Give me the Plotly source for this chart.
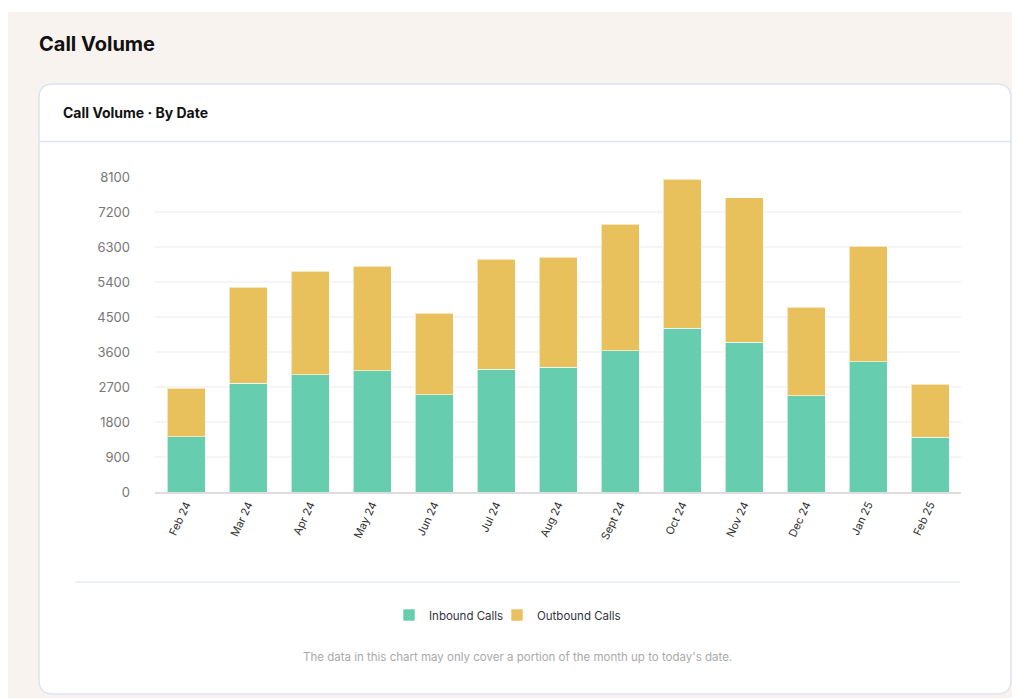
import plotly.graph_objects as go

months = ["Feb 24", "Mar 24", "Apr 24", "May 24", "Jun 24", "Jul 24", "Aug 24",
          "Sept 24", "Oct 24", "Nov 24", "Dec 24", "Jan 25", "Feb 25"]
inbound = [1416, 2798, 3012, 3115, 2497, 3158, 3210, 3629, 4206, 3853, 2481, 3346, 1408]
outbound = [1253, 2463, 2669, 2695, 2103, 2832, 2823, 3262, 3835, 3715, 2273, 2978, 1364]
y_ticks = [0, 900, 1800, 2700, 3600, 4500, 5400, 6300, 7200, 8100]

# page offset of the plotly div inside the browser body
OFF = 8
W, H = 1020 - OFF, 698 - OFF
PX0, PX1, PY0, PY1 = 155 - OFF, 961 - OFF, 492 - OFF, 177 - OFF


def fx(px):
    """screen pixel x -> paper fraction"""
    return (px - OFF - PX0) / (PX1 - PX0)


def fy(py):
    """screen pixel y -> paper fraction"""
    return (PY0 - (py - OFF)) / (PY0 - PY1)


FONT = "Inter, Roboto, sans-serif"
GREEN = "#66CDAE"
GOLD = "#E8C15C"

fig = go.Figure()
fig.add_trace(go.Bar(x=months, y=inbound, name="Inbound Calls", legend="legend",
                     marker=dict(color=GREEN, line=dict(color="rgba(255,255,255,0.6)", width=1))))
fig.add_trace(go.Bar(x=months, y=outbound, name="Outbound Calls", legend="legend2",
                     marker=dict(color=GOLD, line=dict(color="rgba(255,255,255,0.6)", width=1))))


def rounded_rect(x0, y0, x1, y1, r):
    pts = [
        f"M {fx(x0 + r)},{fy(y0)}",
        f"L {fx(x1 - r)},{fy(y0)}",
        f"Q {fx(x1)},{fy(y0)} {fx(x1)},{fy(y0 + r)}",
        f"L {fx(x1)},{fy(y1 - r)}",
        f"Q {fx(x1)},{fy(y1)} {fx(x1 - r)},{fy(y1)}",
        f"L {fx(x0 + r)},{fy(y1)}",
        f"Q {fx(x0)},{fy(y1)} {fx(x0)},{fy(y1 - r)}",
        f"L {fx(x0)},{fy(y0 + r)}",
        f"Q {fx(x0)},{fy(y0)} {fx(x0 + r)},{fy(y0)}",
        "Z",
    ]
    return " ".join(pts)


shapes = [
    dict(type="rect", xref="paper", yref="paper", x0=fx(8), x1=fx(1030), y0=fy(12), y1=fy(710),
         fillcolor="#F9F3F0", line=dict(width=0), layer="below"),
    dict(type="path", xref="paper", yref="paper", path=rounded_rect(39, 84, 1011, 694, 14),
         fillcolor="#FFFFFF", line=dict(color="#DCE3F1", width=1.5), layer="below"),
    dict(type="line", xref="paper", yref="paper", x0=fx(39), x1=fx(1011), y0=fy(141.5), y1=fy(141.5),
         line=dict(color="#DCE3F1", width=1.5), layer="below"),
    dict(type="line", xref="paper", yref="paper", x0=fx(75), x1=fx(960), y0=fy(582), y1=fy(582),
         line=dict(color="#D9E2EE", width=1), layer="below"),
]

annotations = [
    dict(text="<b>Call Volume</b>", xref="paper", yref="paper", x=fx(37), y=fy(44),
         xanchor="left", yanchor="middle", showarrow=False,
         font=dict(family=FONT, size=20, color="#111111")),
    dict(text="<b>Call Volume · By Date</b>", xref="paper", yref="paper", x=fx(61), y=fy(112),
         xanchor="left", yanchor="middle", showarrow=False,
         font=dict(family=FONT, size=14, color="#111111")),
    dict(text="The data in this chart may only cover a portion of the month up to today's date.",
         xref="paper", yref="paper", x=fx(517), y=fy(657), xanchor="center", yanchor="middle",
         showarrow=False, font=dict(family=FONT, size=11.5, color="#A9A9A9")),
]

legend_common = dict(orientation="h", yanchor="middle", y=fy(615),
                     font=dict(family=FONT, size=11.5, color="#333340"),
                     bgcolor="rgba(0,0,0,0)", itemwidth=30, indentation=-10)

fig.update_layout(
    width=W, height=H,
    margin=dict(l=PX0, r=W - PX1, t=PY1, b=H - PY0, autoexpand=False),
    paper_bgcolor="#FFFFFF",
    plot_bgcolor="rgba(0,0,0,0)",
    barmode="stack",
    bargap=0.387,
    font=dict(family=FONT, size=12, color="#333333"),
    shapes=shapes,
    annotations=annotations,
    showlegend=True,
    legend=dict(**legend_common, xanchor="left", x=fx(399)),
    legend2=dict(**legend_common, xanchor="left", x=fx(507)),
    xaxis=dict(type="category", tickangle=-65, tickfont=dict(family=FONT, size=11, color="#333333"),
               showline=True, linecolor="#DDDDDD", linewidth=2, showgrid=False, ticks=""),
    yaxis=dict(range=[0, 8100], tickvals=y_ticks, ticktext=[str(v) for v in y_ticks],
               showgrid=True, gridcolor="#F5F5F5", gridwidth=1.5, zeroline=False, showline=False,
               ticks="", ticklabelstandoff=24,
               tickfont=dict(family=FONT, size=13, color="#777777")),
)

fig.write_html("out.html")
